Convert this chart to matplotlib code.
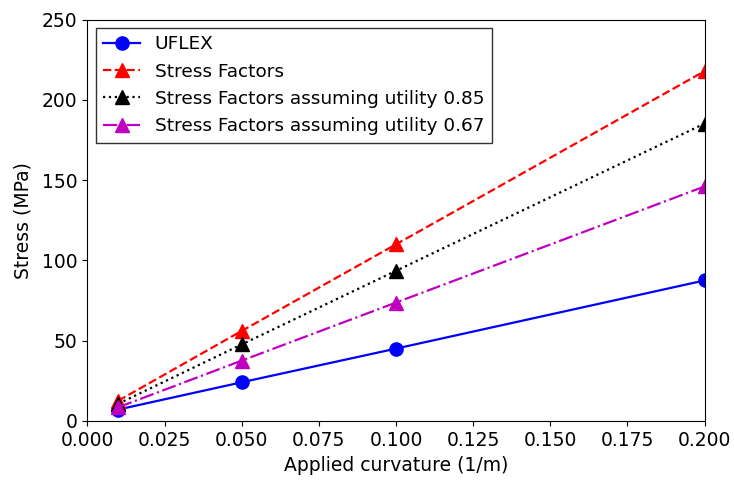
import numpy as np
import matplotlib.pyplot as plt

# Данные
curvature = [0.01, 0.05, 0.1, 0.2]
uflex = [7.0, 24.0, 45.0, 87.5]
stress_factors = [12.5, 56.0, 110.0, 218.0]
sf_085 = [10.6, 47.6, 93.5, 185.3]
sf_067 = [8.4, 37.5, 73.7, 146.1]

plt.rcParams['font.size'] = 13.5
plt.rcParams['lines.linewidth'] = 1.6

fig = plt.figure(figsize=(7.34, 4.82), dpi=100)
ax = fig.add_axes([0.119, 0.127, 0.841, 0.832])

ax.plot(curvature, uflex, 'b-o', markersize=9.5, label='UFLEX')
ax.plot(curvature, stress_factors, 'r--^', markersize=10, label='Stress Factors')
ax.plot(curvature, sf_085, 'k:^', markersize=10, label='Stress Factors assuming utility 0.85')
ax.plot(curvature, sf_067, 'm-.^', markersize=10, label='Stress Factors assuming utility 0.67')

ax.set_xlim(0, 0.2)
ax.set_ylim(0, 250)
ax.set_xticks(np.arange(0, 0.201, 0.025))
ax.set_xlabel('Applied curvature (1/m)', labelpad=5)
ax.set_ylabel('Stress (MPa)', labelpad=7)
ax.legend(loc='upper left', fancybox=False, edgecolor='black', fontsize=13.3,
          borderaxespad=0.45, labelspacing=0.5)

fig.savefig('out.png', dpi=100)
